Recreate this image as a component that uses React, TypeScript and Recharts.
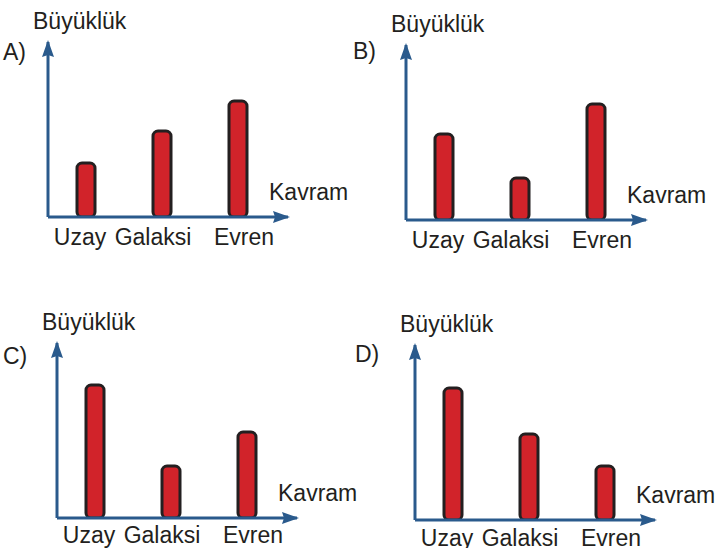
import React from 'react';
import { BarChart, Bar, XAxis, YAxis } from 'recharts';

// ---- data ----
const categories = ['Uzay', 'Galaksi', 'Evren'];
const valuesA = [54, 86, 116];
const valuesB = [86, 42, 116];
const valuesC = [133, 52, 86];
const valuesD = [132, 86, 54];
const panelLetters = ['A)', 'B)', 'C)', 'D)'];
const yTitle = 'Büyüklük';
const xTitle = 'Kavram';

// ---- styles / layout ----
const AXIS_COLOR = '#2a5a8c';
const BAR_FILL = '#d1232a';
const BAR_STROKE = '#231f20';
const TEXT = '#231f20';
const FONT = '"Liberation Sans", Arial, Helvetica, sans-serif';
const FS = 23;
const Y_LEN = 175;
const X_LEN = 240;

const layouts = [
  { ox: 0, oy: 0, w: 368, h: 260, axisLeft: 48, axisBottom: 217, letterX: 3, letterY: 60, tickDy: 20 },
  { ox: 350, oy: 0, w: 368, h: 260, axisLeft: 56, axisBottom: 220, letterX: 3, letterY: 59, tickDy: 20 },
  { ox: 0, oy: 300, w: 368, h: 248, axisLeft: 57, axisBottom: 218, letterX: 3, letterY: 64, tickDy: 17 },
  { ox: 350, oy: 300, w: 368, h: 248, axisLeft: 65, axisBottom: 220, letterX: 5, letterY: 62, tickDy: 18 },
];

const labelShift: Record<string, number> = { Uzay: -6, Galaksi: -9, Evren: 6 };

const makeTick = (dy: number) => (props: any) => {
  const { x, y, payload } = props;
  return (
    <text
      x={x + (labelShift[payload.value] ?? 0)}
      y={y + dy}
      textAnchor="middle"
      fontSize={FS}
      fill={TEXT}
      fontFamily={FONT}
    >
      {payload.value}
    </text>
  );
};

function Panel({ values, letter, layout }: { values: number[]; letter: string; layout: any }) {
  const data = categories.map((name, i) => ({ name, value: values[i] }));
  const { w, h, axisLeft, axisBottom, letterX, letterY, tickDy } = layout;
  const Tick = makeTick(tickDy);
  return (
    <div style={{ position: 'absolute', left: layout.ox, top: layout.oy }}>
      <BarChart
        width={w}
        height={h}
        data={data}
        margin={{ top: axisBottom - Y_LEN, left: axisLeft - 1, right: w - axisLeft - X_LEN, bottom: 0 }}
        barCategoryGap={0}
      >
        <XAxis
          dataKey="name"
          height={h - axisBottom}
          tickLine={false}
          interval={0}
          padding={{ left: 0, right: 12 }}
          axisLine={{ stroke: AXIS_COLOR, strokeWidth: 3, markerEnd: 'url(#arrowHead)' } as any}
          tick={Tick}
        />
        <YAxis
          type="number"
          domain={[0, Y_LEN]}
          allowDataOverflow
          width={1}
          tick={false}
          tickLine={false}
          axisLine={{ stroke: AXIS_COLOR, strokeWidth: 3, markerStart: 'url(#arrowHead)' } as any}
        />
        <Bar
          dataKey="value"
          barSize={18}
          fill={BAR_FILL}
          stroke={BAR_STROKE}
          strokeWidth={3}
          radius={5}
          isAnimationActive={false}
        />
        <text x={axisLeft - 15} y={axisBottom - 188} fontSize={FS} fill={TEXT} fontFamily={FONT}>
          {yTitle}
        </text>
        <text x={axisLeft + 221} y={axisBottom - 17} fontSize={FS} fill={TEXT} fontFamily={FONT}>
          {xTitle}
        </text>
        <text x={letterX} y={letterY} fontSize={FS} fill={TEXT} fontFamily={FONT}>
          {letter}
        </text>
      </BarChart>
    </div>
  );
}

export default function App() {
  const series = [valuesA, valuesB, valuesC, valuesD];
  return (
    <div style={{ position: 'absolute', left: 0, top: 0, width: 718, height: 548, background: '#fff', overflow: 'hidden' }}>
      <svg width={0} height={0} style={{ position: 'absolute' }}>
        <defs>
          <marker
            id="arrowHead"
            viewBox="0 0 17 12"
            markerWidth={17}
            markerHeight={12}
            refX={15}
            refY={6}
            orient="auto-start-reverse"
            markerUnits="userSpaceOnUse"
          >
            <path d="M0,0 L17,6 L0,12 L2,6 Z" fill={AXIS_COLOR} />
          </marker>
        </defs>
      </svg>
      {series.map((vals, i) => (
        <Panel key={panelLetters[i]} values={vals} letter={panelLetters[i]} layout={layouts[i]} />
      ))}
    </div>
  );
}
